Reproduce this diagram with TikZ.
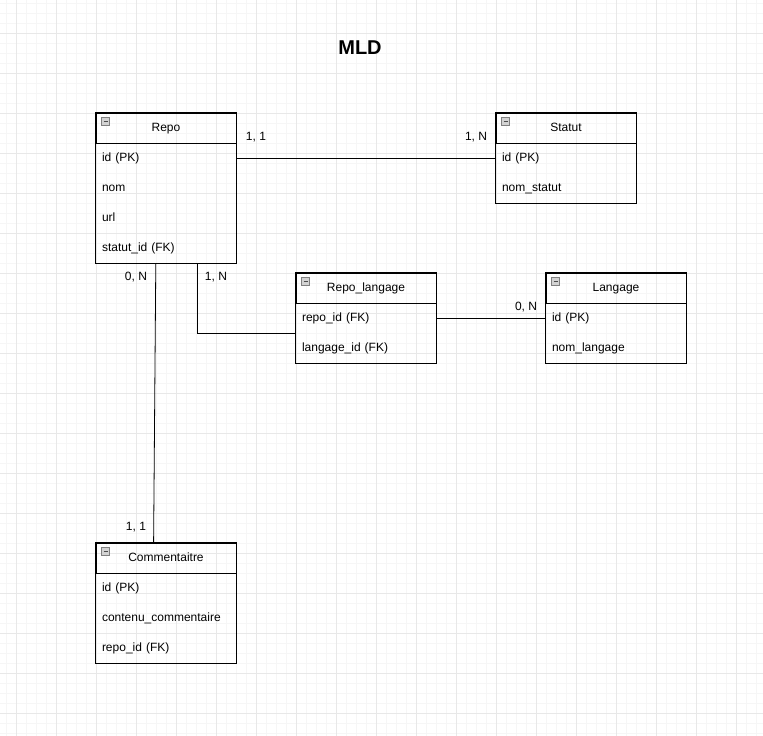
\documentclass[tikz,border=0pt]{standalone}
\usepackage{fontspec}
\setmainfont{Liberation Sans}
\usepackage{tikz}
\usetikzlibrary{calc}
\definecolor{gridmajor}{RGB}{232,232,232}
\definecolor{gridminor}{RGB}{246,246,246}
\tikzset{
  every node/.style={font=\fontsize{12}{14}\selectfont},
  tblhead/.style={
    draw,
    rectangle,
    line width=0.8pt,
    minimum width=140pt,
    minimum height=30pt,
    text height=8pt,
    text depth=1pt,
    inner sep=0pt
  },
  tblrow/.style={
    rectangle,
    text width=128pt,
    inner xsep=6pt,
    inner ysep=0pt,
    minimum height=30pt,
    text height=8pt,
    text depth=1pt,
    align=left
  },
  link/.style={
    draw=black,
    line width=0.8pt
  },
  card/.style={
    inner sep=1pt
  }
}
% draw one table: #1 name, #2 centre x, #3 top y, #4 title, #5 list of rows
\newcommand{\mldtable}[5]{%
  \node[tblhead] (#1) at (#2,#3+15) {#4};
  \filldraw[draw=gray, fill=gray!35, line width=0.5pt]
    ($(#1.north west)+(6,5)$) rectangle ++(8,8);
  \draw[line width=0.7pt, black!70] ($(#1.north west)+(8,9)$) -- ++(4,0);
  \foreach \txt [count=\k] in {#5} {
    \node[tblrow] (#1\k) at (#2,#3+15+30*\k) {\txt};
    \xdef\lastk{\k}
  }
  \draw[line width=0.8pt] (#1.north west) rectangle (#1\lastk.south east);
}

\begin{document}
\begin{tikzpicture}[x=1pt,y=-1pt]
  \useasboundingbox (0,0) rectangle (763,736);
  \fill[white] (0,0) rectangle (763,736);

  % Background grid
  \foreach \gx in {6,16,...,763}
    \draw[gridminor, line width=0.6pt] (\gx,0) -- (\gx,736);
  \foreach \gy in {3,13,...,736}
    \draw[gridminor, line width=0.6pt] (0,\gy) -- (763,\gy);
  \foreach \gx in {16,56,...,763}
    \draw[gridmajor, line width=0.8pt] (\gx,0) -- (\gx,736);
  \foreach \gy in {33,73,...,736}
    \draw[gridmajor, line width=0.8pt] (0,\gy) -- (763,\gy);

  % Title
  \node[font=\fontsize{20}{24}\selectfont\bfseries] (title) at (360,48) {MLD};

  % Tables
  \mldtable{repo}{166}{113}{Repo}{id (PK),nom,url,statut\_id (FK)}
  \mldtable{statut}{566}{113}{Statut}{id (PK),nom\_statut}
  \mldtable{rl}{366}{273}{Repo\_langage}{repo\_id (FK),langage\_id (FK)}
  \mldtable{lang}{616}{273}{Langage}{id (PK),nom\_langage}
  \mldtable{comm}{166}{543}{Commentaitre}{id (PK),contenu\_commentaire,repo\_id (FK)}

  % Links
  \draw[link] (repo1.east) -- (statut1.west);
  \draw[link] ([xshift=60pt]repo4.south west) -- ([xshift=58pt]comm.north west);
  \draw[link] ([xshift=102pt]repo4.south west) |- (rl1.south west);
  \draw[link] (rl1.east) -- (lang1.west);

  % Cardinalities
  \node[card] (c1) at (256,137) {1, 1};
  \node[card] (c2) at (476,137) {1, N};
  \node[card] (c3) at (136,277) {0, N};
  \node[card] (c4) at (216,277) {1, N};
  \node[card] (c5) at (526,307) {0, N};
  \node[card] (c6) at (136,527) {1, 1};
\end{tikzpicture}
\end{document}
